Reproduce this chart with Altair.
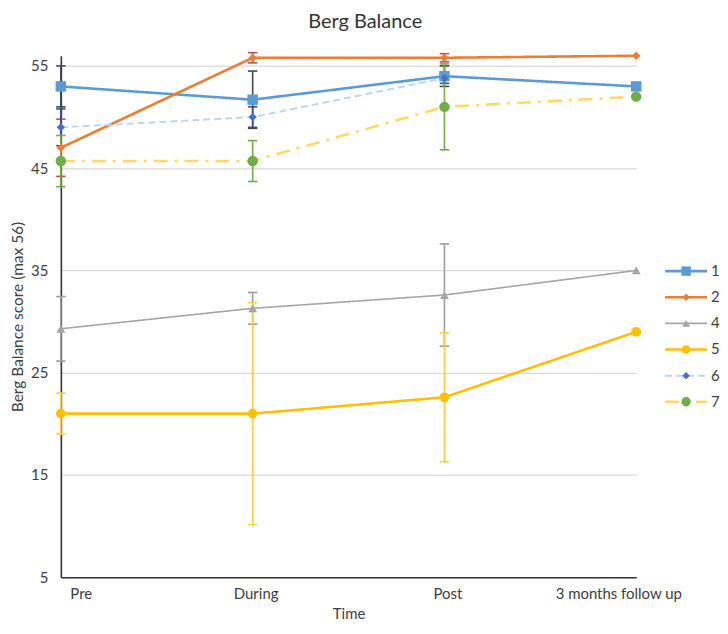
import altair as alt
import pandas as pd

# ---------------- data ----------------
times = ["Pre", "During", "Post", "3 months follow up"]
series_ids = ["1", "2", "4", "5", "6", "7"]

s1_mean = [53.0, 51.7, 54.0, 53.0]
s1_err = [2.0, 2.8, 1.0, None]
s2_mean = [47.0, 55.8, 55.8, 56.0]
s2_err = [2.8, 0.5, 0.4, None]
s4_mean = [29.3, 31.3, 32.6, 35.0]
s4_err = [3.15, 1.55, 5.0, None]
s5_mean = [21.0, 21.0, 22.6, 29.0]
s5_err = [2.0, 10.85, 6.3, None]
s6_mean = [49.0, 50.0, 53.8, None]
s6_err = [1.8, 1.0, 0.5, None]
s7_mean = [45.7, 45.7, 51.0, 52.0]
s7_err = [2.5, 2.0, 4.2, None]

y_ticks = [5, 15, 25, 35, 45, 55]

means = dict(zip(series_ids, [s1_mean, s2_mean, s4_mean, s5_mean, s6_mean, s7_mean]))
errs = dict(zip(series_ids, [s1_err, s2_err, s4_err, s5_err, s6_err, s7_err]))

# ---------------- styles ----------------
style = {
    "1": dict(line="#5B9BD5", marker="#5B9BD5", shape="square", size=110, width=2.6, dash=[1, 0], err="#3E4A5C"),
    "2": dict(line="#ED7D31", marker="#ED7D31", shape="diamond", size=70, width=2.6, dash=[1, 0], err="#C0504D"),
    "4": dict(line="#A5A5A5", marker="#A5A5A5", shape="triangle-up", size=80, width=1.6, dash=[1, 0], err="#9E9E9E"),
    "5": dict(line="#FFC000", marker="#FFC000", shape="circle", size=95, width=2.6, dash=[1, 0], err="#FFCF45"),
    "6": dict(line="#BDD7EE", marker="#4472C4", shape="diamond", size=70, width=2.0, dash=[7, 4], err="#34508A"),
    "7": dict(line="#FFD966", marker="#70AD47", shape="circle", size=110, width=2.6, dash=[14, 7, 3, 7], err="#70AD47"),
}

FONT = "Lato"
TXT = "#404040"

x_scale = alt.Scale(type="point", domain=times, padding=0)
y_scale = alt.Scale(domain=[5, 56], nice=False, zero=False)

x_axis = alt.Axis(
    title="Time", ticks=False, grid=False, labelAngle=0,
    labelFont=FONT, labelFontSize=15, labelColor=TXT, labelPadding=9,
    titleFont=FONT, titleFontSize=15, titleColor=TXT, titleFontWeight="normal", titlePadding=5,
    domainColor="#333333", domainWidth=1.6,
    labelOffset={"condition": [
        {"test": "datum.value === 'Pre'", "value": 20},
        {"test": "datum.value === '3 months follow up'", "value": -18}],
        "value": 3},
)
y_axis = alt.Axis(
    title="Berg Balance score (max 56)", values=y_ticks, ticks=False,
    grid=True, gridColor="#D9D9D9", gridWidth=1.2,
    labelFont=FONT, labelFontSize=15, labelColor=TXT, labelPadding=13,
    titleFont=FONT, titleFontSize=15.5, titleColor=TXT, titleFontWeight="normal", titlePadding=5,
    domainColor="#333333", domainWidth=1.6,
)

X = alt.X("time:N", scale=x_scale, axis=x_axis, sort=times)

layers = []
# error bars
for sid in series_ids:
    rows = []
    for t, m, e in zip(times, means[sid], errs[sid]):
        if m is not None and e is not None:
            rows.append({"time": t, "lo": m - e, "hi": m + e})
    df = pd.DataFrame(rows)
    st = style[sid]
    base = alt.Chart(df)
    layers.append(base.mark_rule(color=st["err"], strokeWidth=1.6).encode(
        x=X, y=alt.Y("lo:Q", scale=y_scale, axis=y_axis), y2="hi:Q"))
    for f in ["lo", "hi"]:
        layers.append(base.mark_point(shape="stroke", size=90, color=st["err"], strokeWidth=1.6,
                                      filled=False, opacity=1).encode(
            x=X, y=alt.Y(f"{f}:Q", scale=y_scale, axis=y_axis)))

# lines and markers
for sid in series_ids:
    rows = [{"time": t, "value": m, "series": sid}
            for t, m in zip(times, means[sid]) if m is not None]
    df = pd.DataFrame(rows)
    st = style[sid]
    base = alt.Chart(df)
    layers.append(base.mark_line(color=st["line"], strokeWidth=st["width"], strokeDash=st["dash"]).encode(
        x=X, y=alt.Y("value:Q", scale=y_scale, axis=y_axis)))
    layers.append(base.mark_point(shape=st["shape"], size=st["size"], filled=True,
                                  color=st["marker"], opacity=1).encode(
        x=X, y=alt.Y("value:Q", scale=y_scale, axis=y_axis)))

main = alt.layer(*layers).properties(width=577, height=523)

# custom legend panel
leg_y = alt.Y("series:N", scale=alt.Scale(type="point", domain=series_ids, range=[216, 347], padding=0),
              axis=None)
leg_layers = []
for sid in series_ids:
    st = style[sid]
    df = pd.DataFrame({"series": [sid]})
    base = alt.Chart(df)
    leg_layers.append(base.mark_rule(color=st["line"], strokeWidth=st["width"], strokeDash=st["dash"]).encode(
        x=alt.value(5), x2=alt.value(47), y=leg_y))
    leg_layers.append(base.mark_point(shape=st["shape"], size=st["size"] * 0.8, filled=True,
                                      color=st["marker"], opacity=1).encode(
        x=alt.value(26), y=leg_y))
    leg_layers.append(base.mark_text(align="left", baseline="middle", font=FONT, fontSize=15,
                                     color=TXT).encode(
        x=alt.value(51), y=leg_y, text="series:N"))

legend = alt.layer(*leg_layers).properties(width=58, height=523)

chart = alt.hconcat(main, legend, spacing=24, bounds="flush").properties(
    title=alt.TitleParams("Berg Balance", font=FONT, fontSize=20, fontWeight="normal",
                          color="#333333", anchor="middle", offset=18),
    padding={"left": 2, "top": 2, "right": 0, "bottom": 0},
).configure_view(stroke=None).configure_axisY(titleFontSize=15.5, titleFont=FONT)

chart.save("out.html", embed_options={"renderer": "svg", "actions": False})
